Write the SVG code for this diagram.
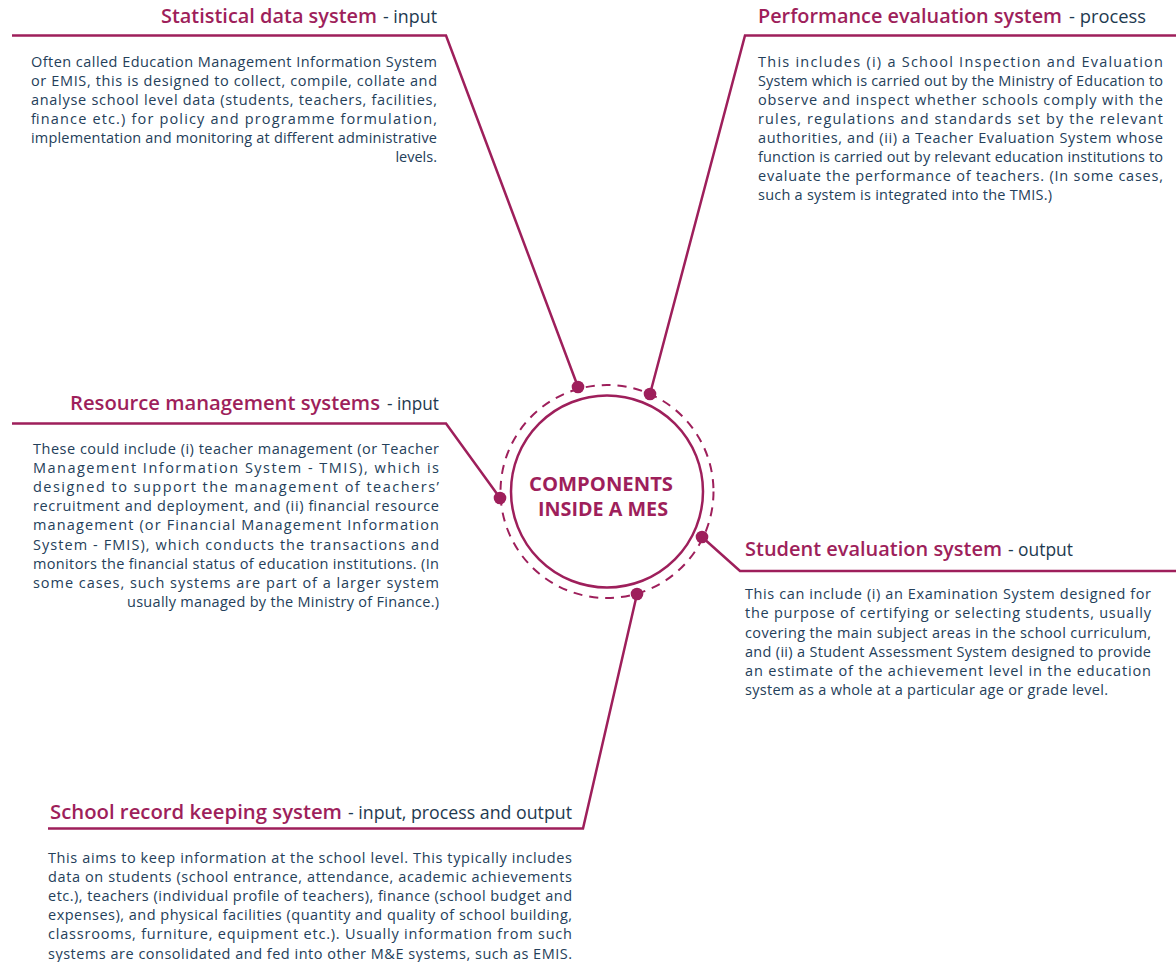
<svg xmlns="http://www.w3.org/2000/svg" width="1176" height="962" viewBox="0 0 1176 962">
<style>
.t{font-family:"Open Sans","Liberation Sans",sans-serif;font-size:19.5px;font-weight:600;fill:#9e1f5b}
.s{font-family:"Open Sans","Liberation Sans",sans-serif;font-size:18px;font-weight:500;fill:#1e3a50}
.b{font-family:"Open Sans","Liberation Sans",sans-serif;font-size:14.5px;font-weight:400;fill:#24405a}
.c{font-family:"Open Sans","Liberation Sans",sans-serif;font-size:19px;font-weight:700;fill:#9e1f5b}
.ln{fill:none;stroke:#9e1f5b;stroke-width:2.5;stroke-linejoin:miter}
.dot{fill:#9e1f5b}
</style>
<rect width="1176" height="962" fill="#ffffff"/>
<g id="connectors">
<polyline class="ln" points="12,35.5 446,35.5 578,387"/>
<polyline class="ln" points="1176,35.5 745,35.5 650,394"/>
<polyline class="ln" points="12,423.5 446,423.5 500,498"/>
<polyline class="ln" points="1176,571 740,571 702,537"/>
<polyline class="ln" points="48,828.5 583,828.5 637,594"/>
<circle class="dot" cx="578" cy="387" r="6.3"/>
<circle class="dot" cx="650" cy="394" r="6.3"/>
<circle class="dot" cx="500" cy="498" r="6.3"/>
<circle class="dot" cx="702" cy="537" r="6.3"/>
<circle class="dot" cx="637" cy="594" r="6.3"/>
</g>
<g id="center">
<circle cx="607" cy="491.5" r="106.5" fill="none" stroke="#9e1f5b" stroke-width="2" stroke-dasharray="9 7"/>
<circle cx="607" cy="491.5" r="96" fill="#ffffff" stroke="#9e1f5b" stroke-width="2.5"/>
<text class="c" x="529" y="491" textLength="144" lengthAdjust="spacingAndGlyphs">COMPONENTS</text>
<text class="c" x="538" y="516" textLength="130" lengthAdjust="spacingAndGlyphs">INSIDE A MES</text>
</g>
<g id="statistical">
<text class="t" x="161" y="23" textLength="216" lengthAdjust="spacingAndGlyphs">Statistical data system</text>
<text class="s" x="383" y="23" textLength="54" lengthAdjust="spacingAndGlyphs">- input</text>
<text class="b" x="31" y="66.5" textLength="406" lengthAdjust="spacing">Often called Education Management Information System</text>
<text class="b" x="31" y="85.6" textLength="406" lengthAdjust="spacing">or EMIS, this is designed to collect, compile, collate and</text>
<text class="b" x="31" y="104.7" textLength="406" lengthAdjust="spacing">analyse school level data (students, teachers, facilities,</text>
<text class="b" x="31" y="123.8" textLength="406" lengthAdjust="spacing">finance etc.) for policy and programme formulation,</text>
<text class="b" x="31" y="142.9" textLength="406" lengthAdjust="spacing">implementation and monitoring at different administrative</text>
<text class="b" x="437" y="162" text-anchor="end">levels.</text>
</g>
<g id="performance">
<text class="t" x="758" y="23" textLength="304" lengthAdjust="spacingAndGlyphs">Performance evaluation system</text>
<text class="s" x="1069" y="23" textLength="77" lengthAdjust="spacingAndGlyphs">- process</text>
<text class="b" x="758" y="66.7" textLength="405" lengthAdjust="spacing">This includes (i) a School Inspection and Evaluation</text>
<text class="b" x="758" y="85.8" textLength="405" lengthAdjust="spacing">System which is carried out by the Ministry of Education to</text>
<text class="b" x="758" y="104.9" textLength="405" lengthAdjust="spacing">observe and inspect whether schools comply with the</text>
<text class="b" x="758" y="124" textLength="405" lengthAdjust="spacing">rules, regulations and standards set by the relevant</text>
<text class="b" x="758" y="143.1" textLength="405" lengthAdjust="spacing">authorities, and (ii) a Teacher Evaluation System whose</text>
<text class="b" x="758" y="162.2" textLength="405" lengthAdjust="spacing">function is carried out by relevant education institutions to</text>
<text class="b" x="758" y="181.3" textLength="405" lengthAdjust="spacing">evaluate the performance of teachers. (In some cases,</text>
<text class="b" x="758" y="200.4" textLength="294" lengthAdjust="spacing">such a system is integrated into the TMIS.)</text>
</g>
<g id="resource">
<text class="t" x="70" y="409.5" textLength="310" lengthAdjust="spacingAndGlyphs">Resource management systems</text>
<text class="s" x="387" y="409.5" textLength="52" lengthAdjust="spacingAndGlyphs">- input</text>
<text class="b" x="33" y="454" textLength="406" lengthAdjust="spacing">These could include (i) teacher management (or Teacher</text>
<text class="b" x="33" y="473.1" textLength="406" lengthAdjust="spacing">Management Information System - TMIS), which is</text>
<text class="b" x="33" y="492.2" textLength="406" lengthAdjust="spacing">designed to support the management of teachers’</text>
<text class="b" x="33" y="511.3" textLength="406" lengthAdjust="spacing">recruitment and deployment, and (ii) financial resource</text>
<text class="b" x="33" y="530.4" textLength="406" lengthAdjust="spacing">management (or Financial Management Information</text>
<text class="b" x="33" y="549.5" textLength="406" lengthAdjust="spacing">System - FMIS), which conducts the transactions and</text>
<text class="b" x="33" y="568.6" textLength="406" lengthAdjust="spacing">monitors the financial status of education institutions. (In</text>
<text class="b" x="33" y="587.7" textLength="406" lengthAdjust="spacing">some cases, such systems are part of a larger system</text>
<text class="b" x="127" y="606.8" textLength="312" lengthAdjust="spacing">usually managed by the Ministry of Finance.)</text>
</g>
<g id="student">
<text class="t" x="745" y="556" textLength="257" lengthAdjust="spacingAndGlyphs">Student evaluation system</text>
<text class="s" x="1008" y="556" textLength="65" lengthAdjust="spacingAndGlyphs">- output</text>
<text class="b" x="745" y="599.3" textLength="406" lengthAdjust="spacing">This can include (i) an Examination System designed for</text>
<text class="b" x="745" y="618.4" textLength="406" lengthAdjust="spacing">the purpose of certifying or selecting students, usually</text>
<text class="b" x="745" y="637.5" textLength="406" lengthAdjust="spacing">covering the main subject areas in the school curriculum,</text>
<text class="b" x="745" y="656.6" textLength="406" lengthAdjust="spacing">and (ii) a Student Assessment System designed to provide</text>
<text class="b" x="745" y="675.7" textLength="406" lengthAdjust="spacing">an estimate of the achievement level in the education</text>
<text class="b" x="745" y="694.8" textLength="363" lengthAdjust="spacing">system as a whole at a particular age or grade level.</text>
</g>
<g id="schoolrecord">
<text class="t" x="50" y="818.5" textLength="292" lengthAdjust="spacingAndGlyphs">School record keeping system</text>
<text class="s" x="348" y="818.5" textLength="224" lengthAdjust="spacingAndGlyphs">- input, process and output</text>
<text class="b" x="48" y="863" textLength="524" lengthAdjust="spacing">This aims to keep information at the school level. This typically includes</text>
<text class="b" x="48" y="882.1" textLength="524" lengthAdjust="spacing">data on students (school entrance, attendance, academic achievements</text>
<text class="b" x="48" y="901.2" textLength="524" lengthAdjust="spacing">etc.), teachers (individual profile of teachers), finance (school budget and</text>
<text class="b" x="48" y="920.3" textLength="524" lengthAdjust="spacing">expenses), and physical facilities (quantity and quality of school building,</text>
<text class="b" x="48" y="939.4" textLength="524" lengthAdjust="spacing">classrooms, furniture, equipment etc.). Usually information from such</text>
<text class="b" x="48" y="958.5" textLength="524" lengthAdjust="spacing">systems are consolidated and fed into other M&amp;E systems, such as EMIS.</text>
</g>
</svg>
